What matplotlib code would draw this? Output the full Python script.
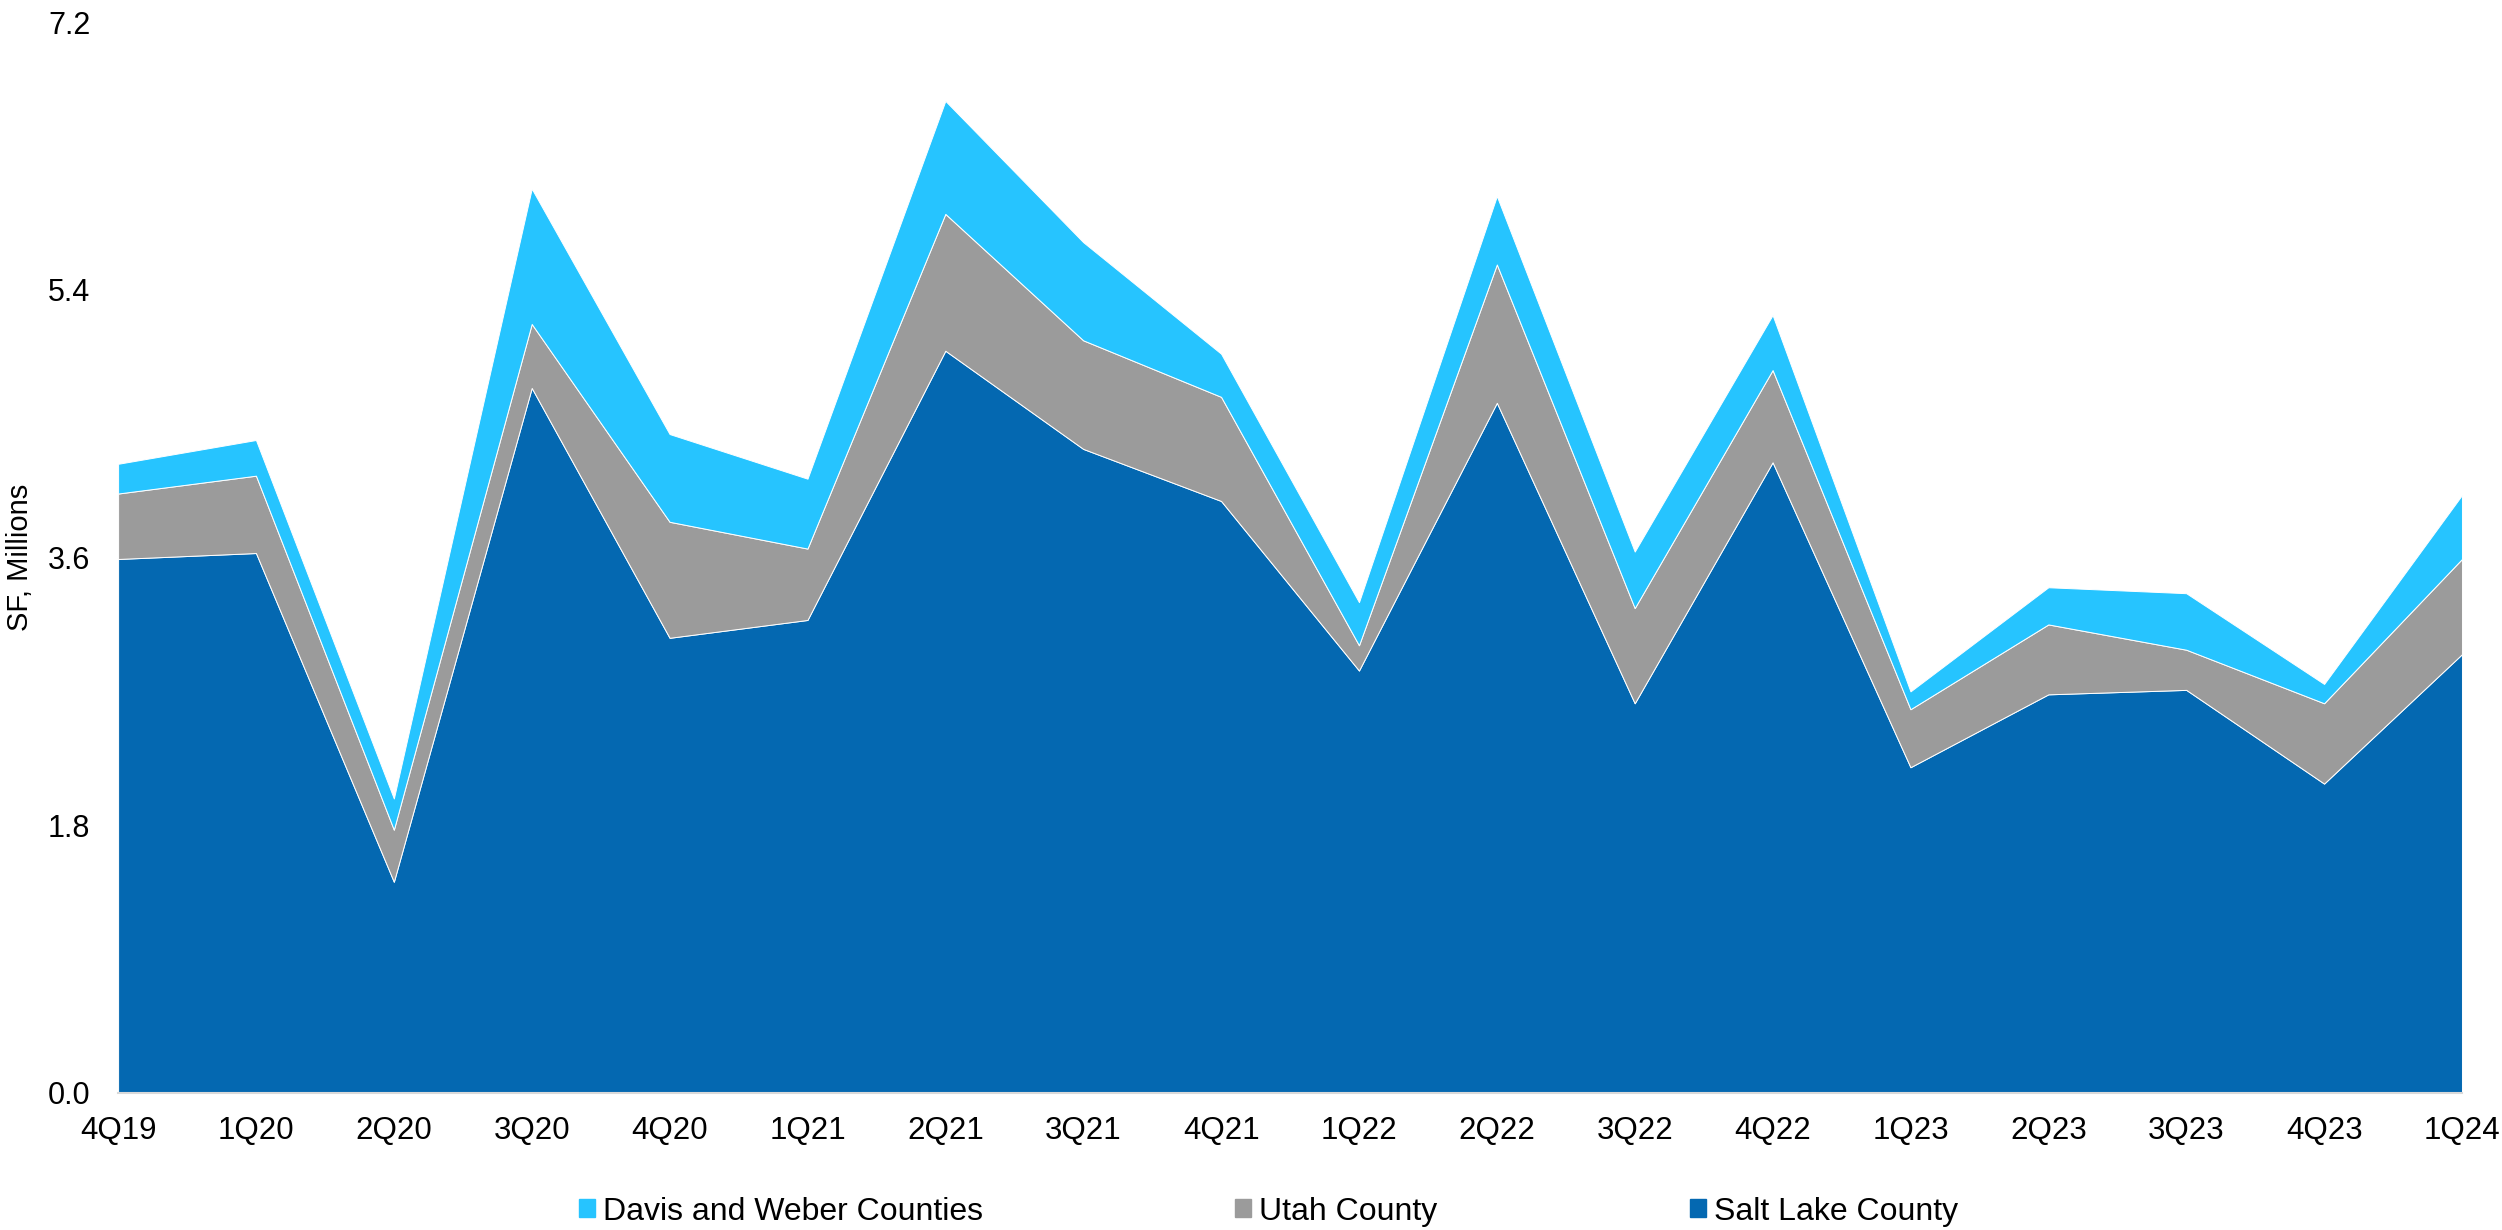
import numpy as np
import matplotlib.pyplot as plt
from matplotlib.patches import Patch

plt.rcParams['font.family'] = ['Liberation Sans', 'DejaVu Sans']

quarters = ["4Q19", "1Q20", "2Q20", "3Q20", "4Q20", "1Q21", "2Q21", "3Q21", "4Q21",
            "1Q22", "2Q22", "3Q22", "4Q22", "1Q23", "2Q23", "3Q23", "4Q23", "1Q24"]

# SF, millions per quarter
salt_lake = [3.59, 3.63, 1.42, 4.74, 3.06, 3.18, 4.99, 4.33, 3.98,
             2.84, 4.64, 2.62, 4.24, 2.19, 2.68, 2.71, 2.08, 2.95]
utah = [0.44, 0.52, 0.35, 0.43, 0.78, 0.48, 0.92, 0.73, 0.70,
        0.17, 0.93, 0.64, 0.62, 0.39, 0.47, 0.27, 0.54, 0.64]
davis_weber = [0.20, 0.24, 0.21, 0.91, 0.59, 0.47, 0.76, 0.66, 0.29,
               0.29, 0.46, 0.38, 0.37, 0.12, 0.25, 0.38, 0.13, 0.43]

c_salt = "#0468B1"
c_utah = "#9B9B9B"
c_davis = "#26C4FF"

fig = plt.figure(figsize=(25.02, 12.3), dpi=100)
ax = fig.add_axes([0.0472, 0.1114, 0.9368, 0.8707])

x = np.arange(len(quarters))
ax.stackplot(x, salt_lake, utah, davis_weber,
             colors=[c_salt, c_utah, c_davis],
             edgecolor="white", linewidth=0.7)

ax.set_xlim(0, len(quarters) - 1)
ax.set_ylim(0, 7.2)
ax.set_yticks([0, 1.8, 3.6, 5.4, 7.2])
ax.set_yticklabels(["0.0", "1.8", "3.6", "5.4", "7.2"])
ax.set_xticks(x)
ax.set_xticklabels(quarters)
ax.tick_params(axis="both", length=0)
ax.tick_params(axis="x", labelsize=22.5, pad=16.5)
ax.tick_params(axis="y", labelsize=22, pad=20)

for s in ["top", "right", "left"]:
    ax.spines[s].set_visible(False)
ax.spines["bottom"].set_color("#D9D9D9")
ax.spines["bottom"].set_linewidth(1.5)

ax.set_ylabel("SF, Millions", fontsize=21, labelpad=10)

handles = [Patch(color=c_davis, label="Davis and Weber Counties"),
           Patch(color=c_utah, label="Utah County"),
           Patch(color=c_salt, label="Salt Lake County")]
fig.legend(handles=handles, loc="center", bbox_to_anchor=(0.507, 0.015),
           ncol=3, frameon=False, fontsize=23, handlelength=0.5,
           handleheight=0.5, handletextpad=0.25, columnspacing=7.9)

plt.savefig("out.png", dpi=100)
